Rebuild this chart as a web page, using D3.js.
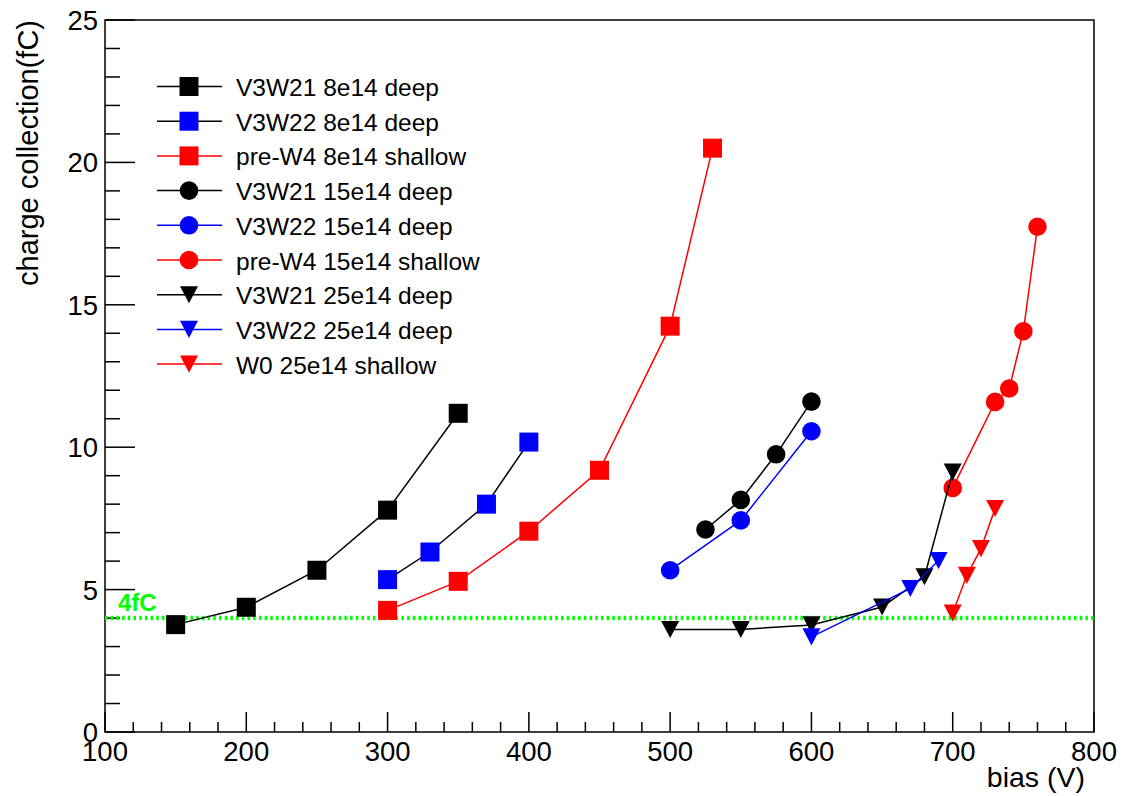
<!DOCTYPE html>
<html>
<head>
<meta charset="utf-8">
<script src="https://cdn.jsdelivr.net/npm/d3@7/dist/d3.min.js"></script>
<style>
  html, body { margin: 0; padding: 0; background: #fff; }
  svg { display: block; font-family: "Liberation Sans", Arial, Helvetica, sans-serif; }
</style>
</head>
<body>
<svg id="chart" width="1121" height="796"></svg>
<script>
// series data: bias (V) vs charge (fC)
const v3w21_8e14_bias = [150, 200, 250, 300, 350];
const v3w21_8e14_q    = [3.77, 4.38, 5.68, 7.79, 11.19];
const v3w22_8e14_bias = [300, 330, 370, 400];
const v3w22_8e14_q    = [5.35, 6.32, 8.0, 10.18];
const prew4_8e14_bias = [300, 350, 400, 450, 500, 530];
const prew4_8e14_q    = [4.27, 5.29, 7.05, 9.19, 14.25, 20.5];
const v3w21_15e14_bias = [525, 550, 575, 600];
const v3w21_15e14_q    = [7.11, 8.15, 9.75, 11.6];
const v3w22_15e14_bias = [500, 550, 600];
const v3w22_15e14_q    = [5.68, 7.43, 10.56];
const prew4_15e14_bias = [700, 730, 740, 750, 760];
const prew4_15e14_q    = [8.57, 11.59, 12.06, 14.07, 17.74];
const v3w21_25e14_bias = [500, 550, 600, 650, 680, 700];
const v3w21_25e14_q    = [3.6, 3.6, 3.76, 4.39, 5.45, 9.13];
const v3w22_25e14_bias = [600, 670, 690];
const v3w22_25e14_q    = [3.34, 5.04, 6.02];
const w0_25e14_bias = [700, 710, 720, 730];
const w0_25e14_q    = [4.18, 5.5, 6.44, 7.85];

const seriesNames = [
  "V3W21 8e14 deep", "V3W22 8e14 deep", "pre-W4 8e14 shallow",
  "V3W21 15e14 deep", "V3W22 15e14 deep", "pre-W4 15e14 shallow",
  "V3W21 25e14 deep", "V3W22 25e14 deep", "W0 25e14 shallow"
];
const seriesBias = [v3w21_8e14_bias, v3w22_8e14_bias, prew4_8e14_bias,
  v3w21_15e14_bias, v3w22_15e14_bias, prew4_15e14_bias,
  v3w21_25e14_bias, v3w22_25e14_bias, w0_25e14_bias];
const seriesQ = [v3w21_8e14_q, v3w22_8e14_q, prew4_8e14_q,
  v3w21_15e14_q, v3w22_15e14_q, prew4_15e14_q,
  v3w21_25e14_q, v3w22_25e14_q, w0_25e14_q];
const markerColors = ["#000", "#00f", "#f00", "#000", "#00f", "#f00", "#000", "#00f", "#f00"];
const lineColors   = ["#000", "#000", "#f00", "#000", "#00f", "#f00", "#000", "#00f", "#f00"];
const markerShapes = ["square", "square", "square", "circle", "circle", "circle", "tri", "tri", "tri"];

const xTicks = [100, 200, 300, 400, 500, 600, 700, 800];
const yTicks = [0, 5, 10, 15, 20, 25];
const threshold = 4;

const svg = d3.select("#chart");
const frame = {left: 105, right: 1094, top: 20, bottom: 732};

const x = d3.scaleLinear().domain([100, 800]).range([frame.left, frame.right]);
const y = d3.scaleLinear().domain([0, 25]).range([frame.bottom, frame.top]);

// frame
svg.append("rect")
  .attr("x", frame.left).attr("y", frame.top)
  .attr("width", frame.right - frame.left).attr("height", frame.bottom - frame.top)
  .attr("fill", "none").attr("stroke", "#000").attr("stroke-width", 1.5);

// x axis ticks (major every 100, minor every 20)
const gx = svg.append("g").attr("stroke", "#000").attr("stroke-width", 1.5);
d3.range(100, 801, 20).forEach(v => {
  const major = v % 100 === 0;
  gx.append("line")
    .attr("x1", x(v)).attr("x2", x(v))
    .attr("y1", frame.bottom).attr("y2", frame.bottom - (major ? 20 : 10));
});
svg.append("g").selectAll("text").data(xTicks).enter().append("text")
  .attr("x", d => x(d)).attr("y", 761)
  .attr("text-anchor", "middle").attr("font-size", 27.5)
  .text(d => d);

// y axis ticks (major every 5, minor every 1)
const gy = svg.append("g").attr("stroke", "#000").attr("stroke-width", 1.5);
d3.range(0, 26, 1).forEach(v => {
  const major = v % 5 === 0;
  gy.append("line")
    .attr("x1", frame.left).attr("x2", frame.left + (major ? 30 : 15))
    .attr("y1", y(v)).attr("y2", y(v));
});
svg.append("g").selectAll("text").data(yTicks).enter().append("text")
  .attr("x", 98).attr("y", d => y(d) + 10)
  .attr("text-anchor", "end").attr("font-size", 27.5)
  .text(d => d);

// axis titles
svg.append("text")
  .attr("transform", `translate(38,${frame.top}) rotate(-90)`)
  .attr("text-anchor", "end").attr("font-size", 29)
  .text("charge collection(fC)");
svg.append("text")
  .attr("x", 1085).attr("y", 787)
  .attr("text-anchor", "end").attr("font-size", 28.5)
  .text("bias (V)");

// 4 fC threshold
svg.append("line")
  .attr("x1", frame.left).attr("x2", frame.right)
  .attr("y1", y(threshold)).attr("y2", y(threshold))
  .attr("stroke", "#00ff00").attr("stroke-width", 4.5)
  .attr("stroke-dasharray", "2.5,3.2");
svg.append("text")
  .attr("x", 118).attr("y", 611)
  .attr("font-size", 24).attr("font-weight", "bold").attr("fill", "#00ff00")
  .text("4fC");

// marker symbols
const triDown = {
  draw(ctx, size) {
    const w = Math.sqrt(size) / 2;
    ctx.moveTo(-w, -w * 0.95);
    ctx.lineTo(w, -w * 0.95);
    ctx.lineTo(0, w * 0.95);
    ctx.closePath();
  }
};
function symbolPath(shape) {
  if (shape === "square") return d3.symbol(d3.symbolSquare, 19 * 19)();
  if (shape === "circle") return d3.symbol(d3.symbolCircle, Math.PI * 9.3 * 9.3)();
  return d3.symbol(triDown, 18 * 18)();
}

const line = d3.line().x(d => x(d[0])).y(d => y(d[1]));

seriesNames.forEach((name, i) => {
  const pts = seriesBias[i].map((b, j) => [b, seriesQ[i][j]]);
  const g = svg.append("g");
  g.append("path").attr("d", line(pts))
    .attr("fill", "none").attr("stroke", lineColors[i]).attr("stroke-width", 1.5);
  g.selectAll("path.m").data(pts).enter().append("path")
    .attr("class", "m")
    .attr("transform", d => `translate(${x(d[0])},${y(d[1])})`)
    .attr("d", symbolPath(markerShapes[i]))
    .attr("fill", markerColors[i]);
});

// legend
const leg = svg.append("g");
seriesNames.forEach((name, i) => {
  const ly = 86.5 + i * 34.7;
  leg.append("line").attr("x1", 157).attr("x2", 222).attr("y1", ly).attr("y2", ly)
    .attr("stroke", lineColors[i]).attr("stroke-width", 1.5);
  leg.append("path").attr("transform", `translate(189,${ly})`)
    .attr("d", symbolPath(markerShapes[i])).attr("fill", markerColors[i]);
  leg.append("text").attr("x", 236).attr("y", ly + 9.5)
    .attr("font-size", 24.5).text(name);
});
</script>
</body>
</html>
